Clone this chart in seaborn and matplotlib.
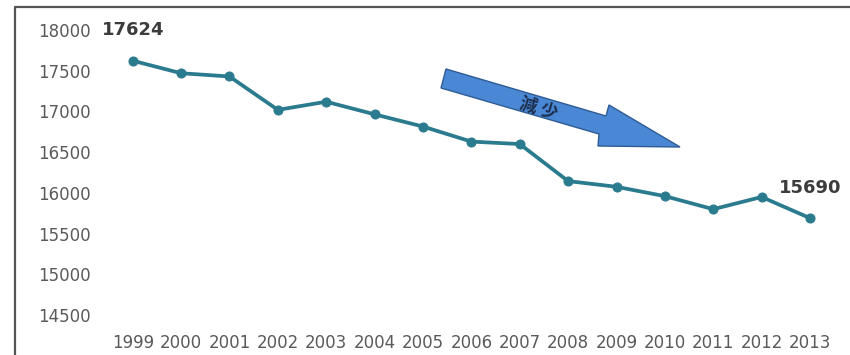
import matplotlib
matplotlib.use("Agg")
import matplotlib.pyplot as plt
from matplotlib.patches import Polygon
from matplotlib.lines import Line2D
import seaborn as sns
import pandas as pd

# Annual totals, 1999-2013
years = [1999, 2000, 2001, 2002, 2003, 2004, 2005, 2006, 2007,
         2008, 2009, 2010, 2011, 2012, 2013]
values = [17624, 17470, 17430, 17020, 17120, 16965, 16815, 16630, 16600,
          16145, 16075, 15960, 15800, 15950, 15690]
y_ticks = [14500, 15000, 15500, 16000, 16500, 17000, 17500, 18000]
labelled_years = [1999, 2013]
arrow_text = "減 少"

sns.set_style("white")
plt.rcParams["font.family"] = ["DejaVu Sans", "Noto Sans CJK JP"]

W, H = 850, 355
fig = plt.figure(figsize=(W / 100, H / 100), dpi=100)


def fx(px):
    return px / W


def fy(py):
    return 1 - py / H


# plot area in pixel terms
ax_left, ax_right = 100, 845
ax_top, ax_bottom = 13.8, 331.3
ax = fig.add_axes([fx(ax_left), fy(ax_bottom),
                   fx(ax_right - ax_left), (ax_bottom - ax_top) / H])

df = pd.DataFrame({"year": years, "value": values})
line_color = "#2a7b8e"
sns.lineplot(data=df, x="year", y="value", ax=ax, color=line_color,
             linewidth=2.7, marker="o", markersize=6.5,
             markeredgecolor=line_color, markerfacecolor=line_color)

ax.set_xlim(1998.324, 2013.723)
ax.set_ylim(14300, 18200)
ax.set_xticks(years)
ax.set_xticklabels([str(y) for y in years])
ax.set_yticks(y_ticks)
ax.set_yticklabels([str(t) for t in y_ticks])
ax.tick_params(axis="both", length=0, labelsize=12, labelcolor="#5a5a5a")
ax.tick_params(axis="y", pad=6.5)
ax.tick_params(axis="x", pad=2)
ax.set_xlabel("")
ax.set_ylabel("")
sns.despine(ax=ax, left=True, bottom=True)
ax.patch.set_alpha(0)

# value labels for first and last year
for yr, v in zip(years, values):
    if yr in labelled_years:
        ax.annotate(f"{v}", xy=(yr, v), xytext=(0, 22),
                    textcoords="offset points", ha="center", va="center",
                    fontsize=13, fontweight="bold", color="#3c3c3c")

# downward trend arrow
arrow_px = [(446, 69), (606, 116), (609, 105), (680, 147),
            (598, 146), (599, 134), (441, 88)]
arrow = Polygon([(fx(x), fy(y)) for x, y in arrow_px], closed=True,
                transform=fig.transFigure, facecolor="#4a88d6",
                edgecolor="#2f5b94", linewidth=1.0, zorder=5)
fig.patches.append(arrow)
fig.text(fx(539), fy(109), arrow_text, rotation=-16.5,
         rotation_mode="anchor", ha="center", va="center",
         fontsize=12.5, fontweight="bold", color="#1d2f4e",
         family=["Noto Sans CJK JP", "DejaVu Sans"], zorder=6)

# outer chart frame
frame_color = "#555555"
fig.add_artist(Line2D([fx(15), fx(W + 5)], [fy(7), fy(7)],
                      transform=fig.transFigure, color=frame_color,
                      linewidth=1.6))
fig.add_artist(Line2D([fx(15), fx(15)], [fy(7), fy(H + 5)],
                      transform=fig.transFigure, color=frame_color,
                      linewidth=1.6))

fig.savefig("out.png", dpi=100, facecolor="white")
